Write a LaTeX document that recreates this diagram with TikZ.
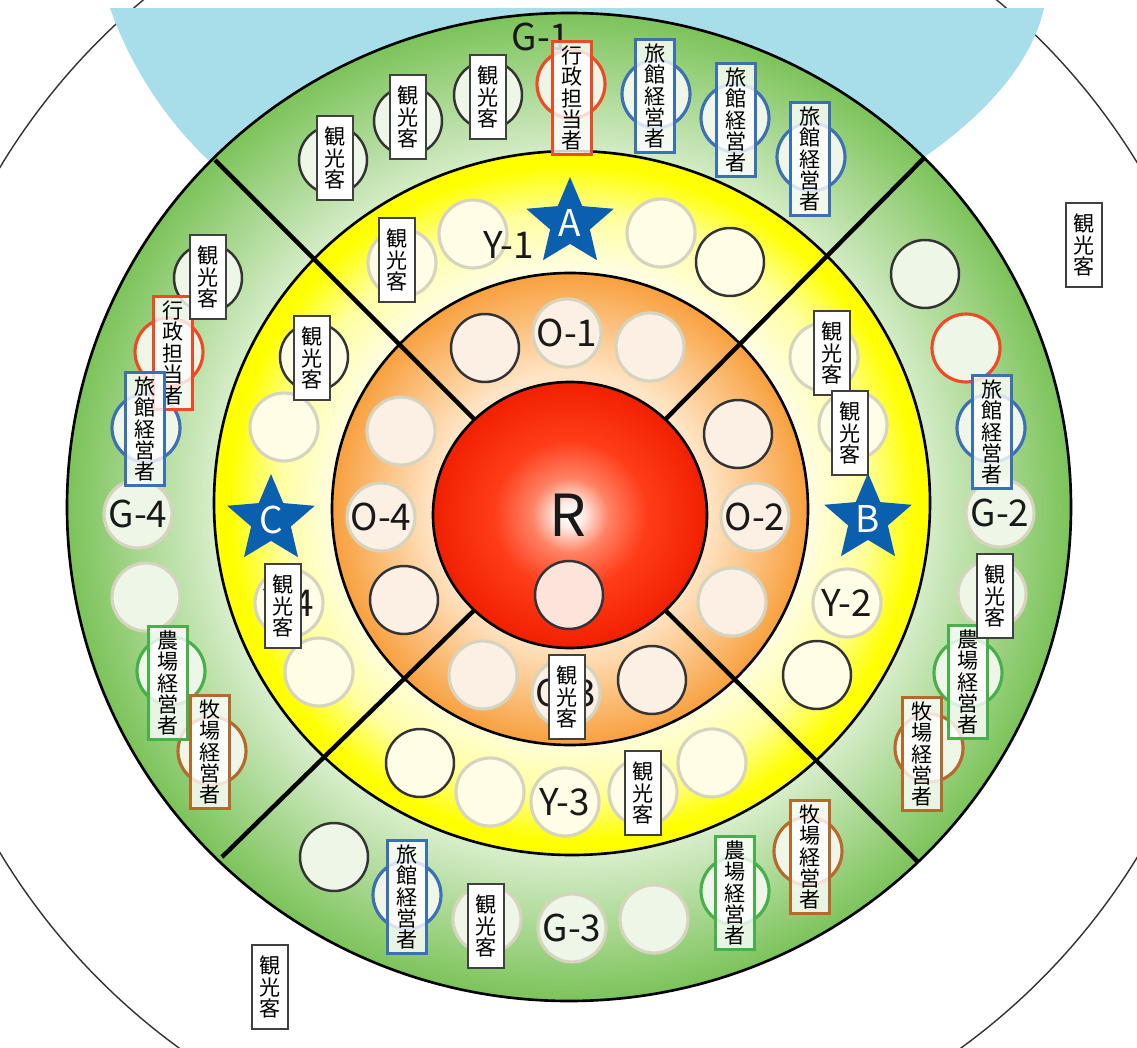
\documentclass[tikz,border=0pt]{standalone}
\usepackage{fontspec}
\usepackage{xcolor}
\usepackage{tikz}
\usetikzlibrary{shapes,positioning}
\newfontfamily\jp{Noto Sans CJK JP}

\definecolor{seablue}{RGB}{168,222,234}
\definecolor{greenin}{RGB}{214,237,201}
\definecolor{greenout}{RGB}{124,195,90}
\definecolor{yellowin}{RGB}{255,253,226}
\definecolor{yellowmid}{RGB}{255,255,160}
\definecolor{yellowout}{RGB}{255,255,0}
\definecolor{orangein}{RGB}{255,229,198}
\definecolor{orangeout}{RGB}{248,160,62}
\definecolor{redcore}{RGB}{255,235,228}
\definecolor{redglow}{RGB}{255,130,100}
\definecolor{redmid}{RGB}{255,60,25}
\definecolor{redout}{RGB}{240,32,0}
\definecolor{spaceG}{RGB}{238,247,231}
\definecolor{spaceY}{RGB}{255,253,230}
\definecolor{spaceO}{RGB}{252,239,227}
\definecolor{spaceR}{RGB}{252,228,218}
\definecolor{softline}{RGB}{214,212,191}
\definecolor{starblue}{RGB}{10,95,174}
\definecolor{rolered}{RGB}{240,74,36}
\definecolor{roleblue}{RGB}{61,111,180}
\definecolor{rolegreen}{RGB}{72,176,74}
\definecolor{rolebrown}{RGB}{181,105,44}

\pgfdeclareradialshading{greenring}{\pgfpoint{0bp}{0bp}}{color(0bp)=(greenin); color(17.8bp)=(greenin); color(25bp)=(greenout); color(50bp)=(greenout)}
\pgfdeclareradialshading{yellowring}{\pgfpoint{0bp}{0bp}}{color(0bp)=(yellowin); color(16.6bp)=(yellowin); color(20.5bp)=(yellowmid); color(24bp)=(yellowout); color(50bp)=(yellowout)}
\pgfdeclareradialshading{orangering}{\pgfpoint{0bp}{0bp}}{color(0bp)=(orangein); color(14.4bp)=(orangein); color(25bp)=(orangeout); color(50bp)=(orangeout)}
\pgfdeclareradialshading{redball}{\pgfpoint{0bp}{0bp}}{color(0bp)=(white); color(2.5bp)=(redcore); color(7bp)=(redglow); color(14bp)=(redmid); color(25bp)=(redout); color(50bp)=(redout)}

\newcommand{\kankoukyaku}{観\\光\\客}
\newcommand{\gyousei}{行\\政\\担\\当\\者}
\newcommand{\ryokan}{旅\\館\\経\\営\\者}
\newcommand{\noujou}{農\\場\\経\\営\\者}
\newcommand{\bokujou}{牧\\場\\経\\営\\者}

\begin{document}
\begin{tikzpicture}[x=0.02cm, y=-0.02cm,
  ringline/.style={draw=black, line width=1.5pt},
  divider/.style={draw=black, line width=2.5pt},
  spot/.style={circle, minimum size=1.36cm, inner sep=0pt, line width=1.4pt},
  plain/.style={spot, draw=black!80},
  soft/.style={spot, draw=softline, line width=1.8pt},
  rolespot/.style={spot, draw=#1, line width=1.8pt},
  tag/.style={inner sep=0pt, text=black!90, font=\jp\fontsize{21}{21}\selectfont},
  guest/.style={draw=black!75, fill=white, line width=0.9pt, minimum width=0.72cm, minimum height=1.68cm, inner sep=0pt, align=center, font=\jp\fontsize{12}{12}\selectfont},
  role/.style={draw=#1, fill=white, fill opacity=0.8, text opacity=1, line width=1.6pt, minimum width=0.78cm, minimum height=2.26cm, inner sep=0pt, align=center, font=\jp\fontsize{12}{12}\selectfont},
  goal/.style={star, star points=5, star point ratio=2.2, fill=starblue, minimum size=1.84cm, inner sep=0pt, text=white, font=\jp\fontsize{21}{21}\selectfont}]

\useasboundingbox (0,0) rectangle (1137,1048);
\clip (0,0) rectangle (1137,1048);
\fill[white] (0,0) rectangle (1137,1048);

% outer field and sea
\draw[line width=0.8pt, black!80] (570,510) circle [radius=665];
\fill[seablue] (110,8) -- (1044,8) .. controls (1030,70) and (975,125) .. (905,170) -- (225,175) .. controls (165,125) and (128,60) .. (110,8) -- cycle;

% rings
\shadedraw[shading=greenring, ringline] (569,507) ellipse [x radius=502, y radius=494];
\shadedraw[shading=yellowring, ringline] (572,503) ellipse [x radius=358, y radius=352];
\shadedraw[shading=orangering, ringline] (570,509) ellipse [x radius=238, y radius=236];
\draw[divider] (500,445) -- (215,160);
\draw[divider] (640,445) -- (925,157);
\draw[divider] (500,585) -- (222,857);
\draw[divider] (640,585) -- (918,862);
\shadedraw[shading=redball, ringline] (570,515) ellipse [x radius=137, y radius=133];

% green ring
\begin{scope}[spot/.append style={fill=spaceG}]
% G-1
\node[plain] (g1-s1) at (333,160) {};
\node[plain] (g1-s2) at (408,121) {};
\node[plain] (g1-s3) at (488,95) {};
\node[rolespot=rolered] (g1-s4) at (571,84) {};
\node[rolespot=roleblue] (g1-s5) at (656,94) {};
\node[rolespot=roleblue] (g1-s6) at (735,118) {};
\node[rolespot=roleblue] (g1-s7) at (811,157) {};
\node[tag] (g1-label) at (541,37) {G-1};
% G-2
\node[plain] (g2-s1) at (925,274) {};
\node[rolespot=rolered] (g2-s2) at (966,348) {};
\node[rolespot=roleblue] (g2-s3) at (991,428) {};
\node[soft] (g2-s4) at (1000,513) {};
\node[soft] (g2-s5) at (992,594) {};
\node[rolespot=rolegreen] (g2-s6) at (968,673) {};
\node[rolespot=rolebrown] (g2-s7) at (929,748) {};
\node[tag] (g2-label) at (g2-s4) {G-2};
% G-3
\node[plain] (g3-s1) at (334,857) {};
\node[rolespot=roleblue] (g3-s2) at (407,895) {};
\node[soft] (g3-s3) at (487,919) {};
\node[soft] (g3-s4) at (572,928) {};
\node[soft] (g3-s5) at (654,919) {};
\node[rolespot=rolegreen] (g3-s6) at (735,891) {};
\node[rolespot=rolebrown] (g3-s7) at (808,851) {};
\node[tag] (g3-label) at (g3-s4) {G-3};
% G-4
\node[plain] (g4-s1) at (208,278) {};
\node[rolespot=rolered] (g4-s2) at (169,352) {};
\node[rolespot=roleblue] (g4-s3) at (146,428) {};
\node[soft] (g4-s4) at (138,514) {};
\node[soft] (g4-s5) at (146,597) {};
\node[rolespot=rolegreen] (g4-s6) at (171,671) {};
\node[rolespot=rolebrown] (g4-s7) at (212,751) {};
\node[tag] (g4-label) at (g4-s4) {G-4};
\end{scope}

% yellow ring
\begin{scope}[spot/.append style={fill=spaceY}]
\node[soft] (y1-s1) at (402,263) {};
\node[soft] (y1-s2) at (473,234) {};
\node[soft] (y1-s3) at (661,233) {};
\node[plain] (y1-s4) at (730,262) {};
\node[tag] (y1-label) at (509,245) {Y-1};
\node[goal] (star-a) at (570,223) {A};
\node[soft] (y2-s1) at (824,357) {};
\node[soft] (y2-s2) at (853,425) {};
\node[soft] (y2-s3) at (847,603) {};
\node[plain] (y2-s4) at (817,675) {};
\node[tag] (y2-label) at (y2-s3) {Y-2};
\node[goal] (star-b) at (868,519) {B};
\node[plain] (y3-s1) at (420,763) {};
\node[soft] (y3-s2) at (490,792) {};
\node[soft] (y3-s3) at (565,802) {};
\node[soft] (y3-s4) at (643,792) {};
\node[soft] (y3-s5) at (712,763) {};
\node[tag] (y3-label) at (y3-s3) {Y-3};
\node[plain] (y4-s1) at (314,357) {};
\node[soft] (y4-s2) at (284,427) {};
\node[soft] (y4-s3) at (289,603) {};
\node[soft] (y4-s4) at (319,672) {};
\node[tag] (y4-label) at (y4-s3) {Y-4};
\node[goal] (star-c) at (271,520) {C};
\end{scope}

% orange ring and R
\begin{scope}[spot/.append style={fill=spaceO}]
\node[plain] (o1-s1) at (485,348) {};
\node[soft] (o1-s2) at (567,333) {};
\node[soft] (o1-s3) at (650,347) {};
\node[tag] (o1-label) at (o1-s2) {O-1};
\node[plain] (o2-s1) at (738,434) {};
\node[soft] (o2-s2) at (755,517) {};
\node[soft] (o2-s3) at (732,602) {};
\node[tag] (o2-label) at (o2-s2) {O-2};
\node[soft] (o3-s1) at (483,675) {};
\node[soft] (o3-s2) at (566,693) {};
\node[plain] (o3-s3) at (652,680) {};
\node[tag] (o3-label) at (o3-s2) {O-3};
\node[soft] (o4-s1) at (401,431) {};
\node[soft] (o4-s2) at (381,517) {};
\node[plain] (o4-s3) at (404,600) {};
\node[tag] (o4-label) at (o4-s2) {O-4};
\end{scope}
\node[tag, font=\jp\fontsize{33}{33}\selectfont] (r-label) at (568,515) {R};
\node[plain, fill=spaceR] (r-s1) at (569,595) {};

% role cards
\node[role=rolered] (g1-gyousei) at (572,98) {\gyousei};
\node[role=roleblue] (g1-ryokan1) at (655,96) {\ryokan};
\node[role=roleblue] (g1-ryokan2) at (736,120) {\ryokan};
\node[role=roleblue] (g1-ryokan3) at (810,159) {\ryokan};
\node[role=roleblue] (g2-ryokan) at (992,432) {\ryokan};
\node[role=rolegreen] (g2-noujou) at (968,682) {\noujou};
\node[role=rolebrown] (g2-bokujou) at (922,754) {\bokujou};
\node[role=roleblue] (g3-ryokan) at (407,897) {\ryokan};
\node[role=rolegreen] (g3-noujou) at (735,893) {\noujou};
\node[role=rolebrown] (g3-bokujou) at (810,857) {\bokujou};
\node[role=rolered] (g4-gyousei) at (173,353) {\gyousei};
\node[role=roleblue] (g4-ryokan) at (145,429) {\ryokan};
\node[role=rolegreen] (g4-noujou) at (168,683) {\noujou};
\node[role=rolebrown] (g4-bokujou) at (210,752) {\bokujou};

% tourists
\node[guest] (g1-guest1) at (335,158) {\kankoukyaku};
\node[guest] (g1-guest2) at (408,117) {\kankoukyaku};
\node[guest] (g1-guest3) at (488,97) {\kankoukyaku};
\node[guest] (g2-guest) at (995,596) {\kankoukyaku};
\node[guest] (g3-guest) at (486,926) {\kankoukyaku};
\node[guest] (g4-guest) at (208,277) {\kankoukyaku};
\node[guest] (y1-guest) at (397,260) {\kankoukyaku};
\node[guest] (y2-guest1) at (832,353) {\kankoukyaku};
\node[guest] (y2-guest2) at (850,433) {\kankoukyaku};
\node[guest] (y3-guest) at (643,793) {\kankoukyaku};
\node[guest] (y4-guest1) at (312,358) {\kankoukyaku};
\node[guest] (y4-guest2) at (283,606) {\kankoukyaku};
\node[guest] (o3-guest) at (567,697) {\kankoukyaku};
\node[guest] (out-guest1) at (1084,245) {\kankoukyaku};
\node[guest] (out-guest2) at (270,987) {\kankoukyaku};

\end{tikzpicture}
\end{document}
